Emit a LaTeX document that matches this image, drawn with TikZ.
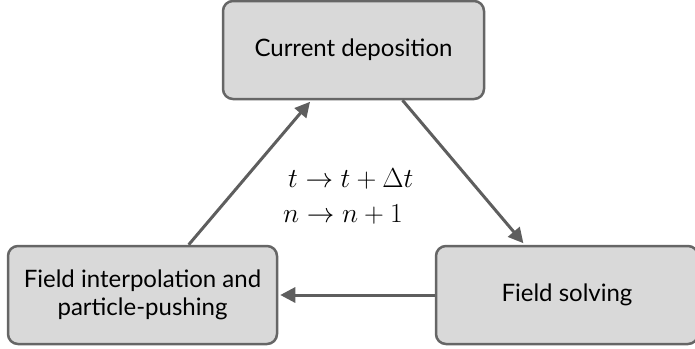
\RequirePackage{fix-cm}
\documentclass[tikz,border=0pt]{standalone}
\usepackage{fontspec}
\newfontfamily\boxfont{Lato}
\usetikzlibrary{arrows.meta,calc}
\definecolor{boxfill}{HTML}{D9D9D9}
\definecolor{boxline}{HTML}{666666}
\definecolor{arrline}{HTML}{5E5E5E}
\begin{document}
\begin{tikzpicture}[x=1pt,y=-1pt,
  stagebox/.style={draw=boxline, fill=boxfill, line width=2.5pt, rounded corners=10pt,
    minimum height=98pt, align=center, inner sep=0pt,
    font=\boxfont\fontsize{24}{28}\selectfont},
  flow/.style={draw=arrline, line width=3pt, -{Triangle[length=15pt,width=15pt]}, shorten >=2pt},
  mathlabel/.style={anchor=base west, inner sep=0pt, font=\fontsize{27.5}{33}\selectfont}]
\useasboundingbox (0,0) rectangle (695,348);
\node[stagebox, minimum width=261pt] (top) at (353.5,50) {Current deposition};
\node[stagebox, minimum width=269pt] (left) at (142.5,295) {Field interpolation and\\particle-pushing};
\node[stagebox, minimum width=262pt] (right) at (567,295) {Field solving};
\node[mathlabel] (l1) at (288,187) {$t\rightarrow t+\Delta t$};
\node[mathlabel] (l2) at (283,222) {$n\rightarrow n+1$};
\draw[flow] ($(left.north west)!0.67!(left.north east)$) -- ($(top.south west)!0.34!(top.south east)$);
\draw[flow] ($(top.south west)!0.686!(top.south east)$) -- ($(right.north west)!0.34!(right.north east)$);
\draw[flow] (right.west) -- (left.east);
\end{tikzpicture}
\end{document}
